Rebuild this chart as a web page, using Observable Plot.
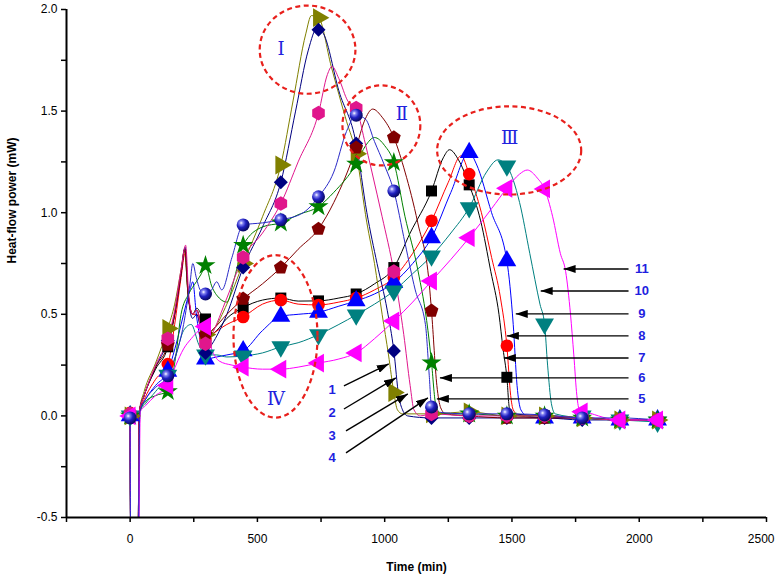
<!DOCTYPE html>
<html><head><meta charset="utf-8">
<script src="https://cdn.jsdelivr.net/npm/d3@7"></script>
<script src="https://cdn.jsdelivr.net/npm/@observablehq/plot@0.6"></script>
<style>body{margin:0;background:#fff;}</style>
</head><body><div id="chart"></div>
<script>
// ---------- data ----------
const markerTimes = [0,148,296,444,592,740,888,1036,1184,1332,1480,1628,1776,1924,2072];

const oliveLine = [[0,0.01],[3,-0.8],[30,-0.8],[36,0.02],[55,0.12],[100,0.26],[148,0.43],[175,0.55],[200,0.72],[214,0.82],[226,0.62],[245,0.5],[262,0.52],[280,0.44],[296,0.40],[330,0.43],[380,0.55],[444,0.75],[520,0.98],[592,1.235],[640,1.55],[690,1.88],[712,1.97],[740,1.96],[790,1.72],[850,1.45],[888,1.29],[930,0.95],[960,0.75],[990,0.5],[1015,0.3],[1036,0.115],[1050,0.03],[1070,0.01],[1184,0.01],[1332,0.02],[1480,0.0],[1628,0.0],[1776,-0.01],[1924,-0.02],[2072,-0.02]];
const oliveMarks = [0.0,0.43,0.40,0.75,1.235,1.96,1.29,0.115,0.01,0.02,0.0,0.0,-0.01,-0.02,-0.02];

const navyLine = [[0,0.0],[3,-0.8],[30,-0.8],[36,0.02],[55,0.1],[100,0.24],[148,0.37],[175,0.5],[200,0.7],[216,0.83],[228,0.6],[245,0.48],[262,0.5],[280,0.4],[296,0.31],[320,0.35],[380,0.5],[444,0.73],[520,0.93],[592,1.15],[650,1.5],[700,1.8],[735,1.91],[760,1.88],[820,1.6],[888,1.34],[930,1.0],[970,0.75],[1010,0.52],[1036,0.32],[1055,0.1],[1070,0.03],[1090,0.0],[1184,-0.01],[1332,-0.01],[1480,-0.01],[1628,-0.01],[1776,-0.02],[1924,-0.02],[2072,-0.02]];
const navyMarks = [0.0,0.37,0.31,0.73,1.15,1.90,1.34,0.32,-0.01,-0.01,-0.01,-0.01,-0.02,-0.02,-0.02];

const pinkLine = [[0,0.01],[3,-0.8],[30,-0.8],[36,0.02],[55,0.1],[100,0.25],[148,0.38],[175,0.52],[200,0.72],[218,0.84],[230,0.6],[245,0.5],[262,0.52],[280,0.42],[296,0.355],[320,0.4],[380,0.58],[444,0.78],[520,0.9],[592,1.045],[660,1.25],[740,1.49],[775,1.68],[793,1.72],[820,1.66],[855,1.55],[888,1.515],[920,1.36],[950,1.2],[990,0.98],[1036,0.71],[1075,0.4],[1100,0.15],[1115,0.03],[1140,0.0],[1184,0.01],[1332,0.0],[1480,0.0],[1628,0.0],[1776,-0.01],[1924,-0.02],[2072,-0.02]];
const pinkMarks = [0.01,0.38,0.355,0.78,1.045,1.49,1.515,0.71,0.01,0.0,0.0,0.0,-0.01,-0.02,-0.02];

const sphereLine = [[0,-0.01],[3,-0.8],[30,-0.8],[38,0.02],[60,0.08],[100,0.14],[148,0.197],[180,0.3],[210,0.45],[235,0.65],[246,0.75],[260,0.68],[275,0.62],[296,0.60],[320,0.62],[340,0.66],[360,0.62],[400,0.78],[444,0.94],[520,0.95],[592,0.965],[680,1.0],[740,1.078],[800,1.2],[850,1.4],[888,1.48],[925,1.46],[960,1.35],[997,1.24],[1036,1.107],[1080,0.85],[1120,0.62],[1160,0.45],[1175,0.2],[1184,0.044],[1200,0.02],[1332,0.01],[1480,0.01],[1628,0.005],[1776,-0.01],[1924,-0.01],[2072,-0.02]];
const sphereMarks = [-0.01,0.197,0.60,0.94,0.965,1.078,1.48,1.107,0.044,0.01,0.01,0.005,-0.01,null,null];

const greenLine = [[0,0.0],[3,-0.8],[30,-0.8],[38,0.02],[60,0.07],[100,0.1],[148,0.12],[180,0.3],[200,0.5],[230,0.6],[260,0.66],[280,0.7],[296,0.74],[320,0.64],[350,0.58],[380,0.56],[410,0.68],[444,0.84],[520,0.93],[592,0.95],[660,0.99],[740,1.03],[800,1.1],[888,1.24],[925,1.33],[960,1.37],[1000,1.33],[1036,1.247],[1080,0.98],[1130,0.72],[1170,0.42],[1184,0.262],[1200,0.06],[1220,0.01],[1332,0.01],[1480,0.0],[1628,0.0],[1776,-0.01],[1924,-0.02],[2072,-0.02]];
const greenMarks = [0.0,0.12,0.74,0.84,0.95,1.03,1.24,1.247,0.262,0.01,0.0,0.0,-0.01,-0.02,-0.02];

const darkRedLine = [[0,0.0],[3,-0.8],[30,-0.8],[36,0.02],[55,0.1],[100,0.24],[148,0.35],[175,0.5],[200,0.7],[215,0.82],[228,0.6],[245,0.5],[262,0.52],[280,0.45],[296,0.40],[320,0.42],[380,0.5],[444,0.576],[520,0.65],[592,0.73],[660,0.82],[740,0.92],[800,1.05],[888,1.32],[920,1.45],[953,1.51],[990,1.47],[1036,1.37],[1080,1.2],[1130,0.95],[1175,0.65],[1184,0.517],[1205,0.15],[1220,0.04],[1240,0.01],[1332,0.0],[1480,-0.01],[1628,-0.01],[1776,-0.01],[1924,-0.02],[2072,-0.02]];
const darkRedMarks = [0.0,0.35,0.40,0.576,0.73,0.92,1.32,1.37,0.517,0.0,-0.01,-0.01,-0.01,-0.02,-0.02];

const blackLine = [[0,0.0],[3,-0.8],[30,-0.8],[36,0.02],[55,0.1],[100,0.23],[148,0.34],[175,0.5],[200,0.7],[214,0.82],[226,0.62],[245,0.5],[262,0.53],[280,0.5],[296,0.477],[315,0.4],[340,0.42],[380,0.48],[444,0.533],[520,0.57],[592,0.58],[660,0.565],[740,0.566],[820,0.58],[888,0.60],[960,0.65],[1036,0.73],[1100,0.9],[1184,1.107],[1230,1.27],[1255,1.31],[1290,1.26],[1332,1.137],[1377,0.96],[1417,0.71],[1449,0.5],[1465,0.33],[1480,0.19],[1490,0.04],[1510,0.01],[1628,0.0],[1776,-0.01],[1924,-0.02],[2072,-0.02]];
const blackMarks = [0.0,0.34,0.477,0.533,0.58,0.566,0.60,0.73,1.107,1.137,0.19,0.0,-0.01,-0.02,-0.02];

const redLine = [[0,0.015],[3,-0.8],[30,-0.8],[36,0.02],[55,0.08],[100,0.18],[148,0.255],[175,0.45],[200,0.68],[216,0.8],[228,0.6],[245,0.5],[262,0.5],[280,0.42],[296,0.38],[320,0.4],[380,0.45],[444,0.487],[520,0.55],[592,0.57],[660,0.55],[740,0.546],[820,0.56],[888,0.58],[960,0.62],[1036,0.68],[1110,0.8],[1184,0.96],[1250,1.15],[1300,1.28],[1332,1.19],[1380,1.0],[1420,0.78],[1455,0.58],[1480,0.345],[1495,0.1],[1505,0.03],[1530,0.0],[1628,-0.01],[1776,-0.01],[1924,-0.02],[2072,-0.02]];
const redMarks = [0.015,0.255,0.38,0.487,0.57,0.546,0.58,0.68,0.96,1.19,0.345,0.0,-0.01,-0.02,-0.02];

const blueTriLine = [[0,0.0],[3,-0.8],[30,-0.8],[38,0.02],[60,0.08],[100,0.15],[148,0.22],[180,0.35],[210,0.5],[235,0.62],[246,0.66],[260,0.5],[280,0.35],[296,0.28],[340,0.29],[380,0.3],[444,0.32],[520,0.42],[592,0.49],[660,0.5],[740,0.51],[820,0.54],[888,0.566],[960,0.6],[1036,0.656],[1110,0.75],[1184,0.877],[1260,1.1],[1332,1.296],[1360,1.24],[1420,1.0],[1480,0.763],[1505,0.45],[1520,0.15],[1535,0.03],[1560,0.0],[1628,-0.01],[1776,-0.01],[1924,-0.02],[2072,-0.02]];
const blueTriMarks = [0.0,0.22,0.28,0.32,0.49,0.51,0.566,0.656,0.877,1.296,0.763,-0.01,-0.01,-0.02,-0.02];

const tealLine = [[0,0.0],[3,-0.8],[30,-0.8],[38,0.02],[60,0.06],[100,0.12],[148,0.2],[180,0.3],[210,0.42],[240,0.45],[270,0.35],[296,0.3],[340,0.3],[380,0.29],[444,0.295],[520,0.31],[592,0.34],[660,0.36],[740,0.40],[820,0.45],[888,0.497],[960,0.55],[1036,0.615],[1110,0.7],[1184,0.787],[1260,0.9],[1332,1.025],[1400,1.2],[1445,1.26],[1480,1.23],[1530,1.05],[1570,0.8],[1610,0.55],[1628,0.453],[1640,0.25],[1655,0.06],[1670,0.01],[1776,-0.01],[1924,-0.02],[2072,-0.03]];
const tealMarks = [0.0,0.2,0.30,0.295,0.34,0.40,0.497,0.615,0.787,1.025,1.23,0.453,0.0,-0.02,-0.03];

const magentaLine = [[0,0.0],[3,-0.8],[32,-0.8],[40,0.02],[60,0.05],[100,0.1],[148,0.15],[180,0.25],[210,0.33],[240,0.38],[270,0.42],[296,0.44],[320,0.33],[350,0.27],[400,0.25],[444,0.24],[520,0.23],[592,0.23],[660,0.24],[740,0.26],[820,0.28],[888,0.31],[960,0.38],[1036,0.467],[1110,0.56],[1184,0.664],[1260,0.77],[1332,0.877],[1420,1.02],[1480,1.12],[1530,1.19],[1560,1.21],[1600,1.17],[1628,1.117],[1660,0.98],[1690,0.8],[1711,0.71],[1730,0.5],[1743,0.3],[1755,0.1],[1765,0.03],[1790,0.02],[1924,-0.02],[2072,-0.02]];
const magentaMarks = [0.0,0.15,0.44,0.24,0.23,0.26,0.31,0.467,0.664,0.877,1.12,1.117,0.02,-0.02,-0.02];

// annotations
const arrowTailT = [840,840,848,848,1958,1958,1958,1958,1958,1958,1958];
const arrowTailV = [0.148,0.034,-0.074,-0.182,0.084,0.187,0.285,0.394,0.502,0.615,0.723];
const arrowTipT  = [1016,1044,1091,1170,1205,1217,1468,1480,1515,1613,1703];
const arrowTipV  = [0.256,0.187,0.108,0.089,0.084,0.187,0.285,0.394,0.502,0.615,0.723];
const numLabels  = ["1","2","3","4","5","6","7","8","9","10","11"];
const numLabelT  = [793,793,793,793,2010,2010,2010,2010,2010,2010,2010];
const numLabelV  = [0.128,0.015,-0.098,-0.207,0.084,0.187,0.285,0.394,0.502,0.615,0.723];

const romanText = ["Ⅰ","Ⅱ","Ⅲ","Ⅳ"];
const romanT = [593,1067,1491,573];
const romanV = [1.806,1.486,1.368,0.084];
const ellipseT  = [699,989,1491,573];
const ellipseV  = [1.80,1.427,1.304,0.389];
const ellipseRT = [188,153,283,165];
const ellipseRV = [0.217,0.197,0.217,0.40];

const xTicks = [-250,0,250,500,750,1000,1250,1500,1750,2000,2250,2500];
const xTickLabels = [0,500,1000,1500,2000];
const xLastLabel = [2500];
const yTicks = [-0.5,-0.25,0,0.25,0.5,0.75,1.0,1.25,1.5,1.75,2.0];

// ---------- symbols ----------
const pentagon = {draw(ctx, size) {
  const r = Math.sqrt(size / 2.378);
  for (let k = 0; k < 5; k++) {
    const a = -Math.PI/2 + k*2*Math.PI/5;
    const x = r*Math.cos(a), y = r*Math.sin(a);
    if (k === 0) ctx.moveTo(x, y); else ctx.lineTo(x, y);
  }
  ctx.closePath();
}};

const series = [
  {line: blackLine,   marks: blackMarks,   lc: "#000000", fc: "#000000", sym: "square",   r: 6.2, rot: 0},
  {line: redLine,     marks: redMarks,     lc: "#ff0000", fc: "#ff0000", sym: "circle",   r: 6.3, rot: 0},
  {line: blueTriLine, marks: blueTriMarks, lc: "#0000ff", fc: "#0000ff", sym: "triangle", r: 7,   rot: 0},
  {line: tealLine,    marks: tealMarks,    lc: "#008080", fc: "#008080", sym: "triangle", r: 7,   rot: 180},
  {line: oliveLine,   marks: oliveMarks,   lc: "#808000", fc: "#808000", sym: "triangle", r: 7,   rot: 90},
  {line: navyLine,    marks: navyMarks,    lc: "#000080", fc: "#000080", sym: "square",   r: 5.6, rot: 45},
  {line: darkRedLine, marks: darkRedMarks, lc: "#800000", fc: "#800000", sym: pentagon,   r: 6.3, rot: 0},
  {line: greenLine,   marks: greenMarks,   lc: "#008000", fc: "#008000", sym: "star",     r: 6.3, rot: 0},
  {line: pinkLine,    marks: pinkMarks,    lc: "#e0168c", fc: "#e0168c", sym: "hexagon",  r: 6.3, rot: 0},
  {line: magentaLine, marks: magentaMarks, lc: "#ff00ff", fc: "#ff00ff", sym: "triangle", r: 7,   rot: -90},
  {line: sphereLine,  marks: sphereMarks,  lc: "#2a2ac8", fc: "url(#sphereGrad)", sym: "circle", r: 6.5, rot: 0}
];

const lineMarks = series.map(s => Plot.line(s.line, {
  x: d => d[0], y: d => d[1], stroke: s.lc, strokeWidth: 1, curve: "monotone-x", clip: true
}));
const dotMarks = series.map(s => Plot.dot(
  markerTimes.map((t, i) => ({t, v: s.marks[i]})).filter(d => d.v != null),
  {x: "t", y: "v", symbol: s.sym, r: s.r, fill: s.fc, stroke: "none", rotate: s.rot}
));

const arrows = arrowTailT.map((t, i) => ({t1: t, v1: arrowTailV[i], t2: arrowTipT[i], v2: arrowTipV[i]}));
const nums = numLabels.map((s, i) => ({s, t: numLabelT[i], v: numLabelV[i]}));
const romans = romanText.map((s, i) => ({s, t: romanT[i], v: romanV[i]}));

const plot = Plot.plot({
  width: 775, height: 578,
  marginLeft: 66, marginRight: 9, marginTop: 9, marginBottom: 61,
  x: {domain: [-250, 2500]},
  y: {domain: [-0.5, 2.0]},
  style: {fontFamily: "'Liberation Sans', Arial, sans-serif", fontSize: "12px", background: "white", color: "black", overflow: "visible"},
  marks: [
    Plot.axisX(xTicks, {anchor: "bottom", tickSize: 5, strokeWidth: 1.5, label: null, tickFormat: () => ""}),
    Plot.text(xTickLabels, {x: d => d, text: d => String(d), frameAnchor: "bottom", dy: 25, fontSize: 12}),
    Plot.text(xLastLabel, {x: d => d, text: d => String(d), frameAnchor: "bottom", dy: 25, dx: 8, textAnchor: "end", fontSize: 12}),
    Plot.axisY(yTicks, {anchor: "left", tickSize: 5, tickPadding: 4, strokeWidth: 1.5, label: null,
      tickFormat: d => (Math.abs(d * 2 - Math.round(d * 2)) < 1e-9 ? d.toFixed(1) : "")}),
    ...lineMarks,
    ...dotMarks,
    Plot.link(arrows, {x1: "t1", y1: "v1", x2: "t2", y2: "v2", stroke: "black", strokeWidth: 1.4}),
    Plot.text(nums, {x: "t", y: "v", text: "s", fill: "#1f1fe0", fontWeight: "bold", fontSize: 13, fontFamily: "'Liberation Sans', Arial, sans-serif"}),
    Plot.text(romans, {x: "t", y: "v", text: "s", fill: "#2222dd", fontSize: 18, fontFamily: "'DejaVu Serif', 'Liberation Serif', serif"}),
    Plot.ruleX([-250], {stroke: "black", strokeWidth: 2}),
    Plot.ruleY([-0.5], {stroke: "black", strokeWidth: 2}),
    Plot.text(["Heat-flow power (mW)"], {text: d => d, frameAnchor: "left", dx: -54, rotate: -90, fontWeight: "bold", fontSize: 12}),
    Plot.text(["Time (min)"], {text: d => d, frameAnchor: "bottom", dy: 53, fontWeight: "bold", fontSize: 12})
  ]
});

const svg = d3.select(plot);
const defs = svg.insert("defs", ":first-child");
const grad = defs.append("radialGradient").attr("id", "sphereGrad").attr("cx", "35%").attr("cy", "35%").attr("r", "65%");
grad.append("stop").attr("offset", "0%").attr("stop-color", "#ffffff");
grad.append("stop").attr("offset", "22%").attr("stop-color", "#8080f0");
grad.append("stop").attr("offset", "55%").attr("stop-color", "#2020c0");
grad.append("stop").attr("offset", "100%").attr("stop-color", "#0a0a66");
defs.append("marker").attr("id", "ah").attr("viewBox", "0 0 12 8").attr("refX", 12).attr("refY", 4)
  .attr("markerWidth", 12).attr("markerHeight", 8).attr("markerUnits", "userSpaceOnUse").attr("orient", "auto")
  .append("path").attr("d", "M0,0L12,4L0,8Z").attr("fill", "black");
svg.selectAll('g[aria-label="link"] path').attr("marker-end", "url(#ah)");

const xs = plot.scale("x"), ys = plot.scale("y");
ellipseT.forEach((t, i) => {
  const cx = xs.apply(t), cy = ys.apply(ellipseV[i]);
  const rx = Math.abs(xs.apply(t + ellipseRT[i]) - cx);
  const ry = Math.abs(ys.apply(ellipseV[i] + ellipseRV[i]) - cy);
  svg.append("ellipse").attr("cx", cx).attr("cy", cy).attr("rx", rx).attr("ry", ry)
    .attr("fill", "none").attr("stroke", "#e8201c").attr("stroke-width", 2.2).attr("stroke-dasharray", "5,3.5");
});

document.getElementById("chart").appendChild(plot);
</script>
</body></html>
